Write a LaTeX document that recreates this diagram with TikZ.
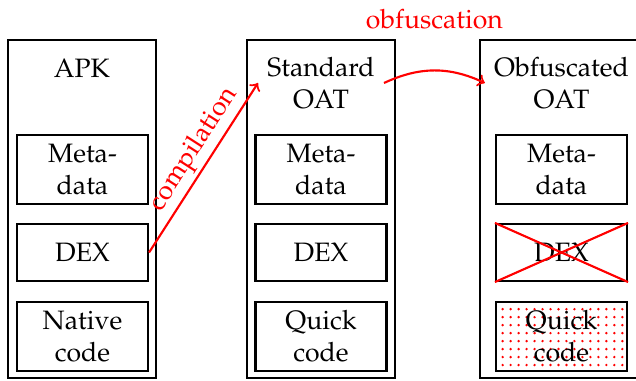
\documentclass[tikz,border=0pt]{standalone}
\usepackage[T1]{fontenc}
\usepackage{mathpazo}
\usepackage{xcolor}
\usepackage{tikz}
\usetikzlibrary{patterns}

\begin{document}
\begin{tikzpicture}[x=0.376pt,y=-0.376pt]
\tikzstyle{every node}+=[align=center]
\tikzstyle{frame}=[draw=black,line width=0.8pt,minimum height=338*0.376pt]
\tikzstyle{part}=[draw=black,line width=0.8pt,minimum width=131*0.376pt]
\tikzstyle{flow}=[red,line width=0.8pt,->]
\useasboundingbox (0,0) rectangle (636,381);
\node [frame,minimum width=148*0.376pt] (apk) at (82,209) {};
\node [frame,minimum width=148*0.376pt] (std) at (321,209) {};
\node [frame,minimum width=163*0.376pt] (obf) at (561.5,209) {};
\node (apktitle) at (82,68) {APK};
\node (stdtitle) at (321,83) {Standard\\OAT};
\node (obftitle) at (561.5,83) {Obfuscated\\OAT};
\node [part,minimum height=67*0.376pt] (meta1) at (82.5,169.5) {Meta-\\data};
\node [part,minimum height=57*0.376pt] (dex1) at (82.5,252.5) {DEX};
\node [part,minimum height=69*0.376pt] (native1) at (82.5,336.5) {Native\\code};
\node [part,minimum height=67*0.376pt] (meta2) at (321,169.5) {Meta-\\data};
\node [part,minimum height=57*0.376pt] (dex2) at (321,252.5) {DEX};
\node [part,minimum height=69*0.376pt] (quick2) at (321,336.5) {Quick\\code};
\node [part,minimum height=67*0.376pt] (meta3) at (561.5,169.5) {Meta-\\data};
\node [part,minimum height=57*0.376pt] (dex3) at (561.5,252.5) {DEX};
\node [part,minimum height=69*0.376pt,pattern=dots,pattern color=red] (quick3) at (561.5,336.5) {Quick\\code};
% removed DEX
\draw [red,line width=0.8pt] (dex3.north west) -- (dex3.south east);
\draw [red,line width=0.8pt] (dex3.south west) -- (dex3.north east);
% compilation and obfuscation
\draw [flow] (dex1.east) -- (stdtitle.west) node [pos=0.55,sloped,above=-2pt] {compilation};
\draw [flow] (stdtitle.east) to [bend left=25] node [midway,above=12pt] {obfuscation} (obftitle.west);
\end{tikzpicture}
\end{document}
